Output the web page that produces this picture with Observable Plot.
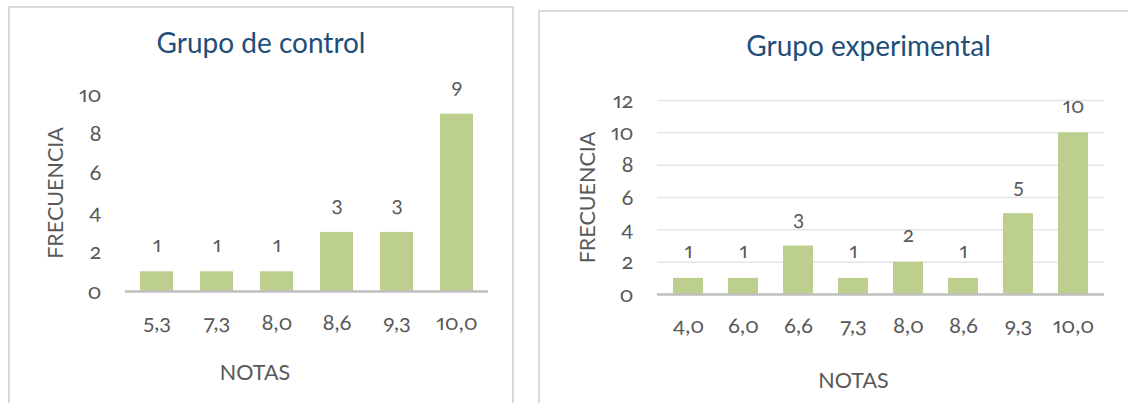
<!DOCTYPE html>
<html>
<head>
<meta charset="utf-8">
<script src="https://cdn.jsdelivr.net/npm/d3@7"></script>
<script src="https://cdn.jsdelivr.net/npm/@observablehq/plot@0.6"></script>
<style>
  html, body { margin: 0; padding: 0; background: #fff; overflow: hidden; }
  body { width: 1128px; height: 403px; position: relative; }
  .panel { position: absolute; border: 2px solid #d9d9d9; box-sizing: border-box; }
  .chart { position: absolute; }
  /* old-style figures for every number in the charts */
  .chart svg, .chart svg text { font-variant-numeric: oldstyle-nums proportional-nums !important; }
</style>
</head>
<body>
<div class="panel" style="left:8px; top:6px; width:506px; height:420px;"></div>
<div class="panel" style="left:538px; top:10px; width:620px; height:420px;"></div>
<div id="control" class="chart" style="left:8px; top:6px;"></div>
<div id="experimental" class="chart" style="left:538px; top:10px;"></div>

<script>
// Grupo de control
const notasControl = ["5,3", "7,3", "8,0", "8,6", "9,3", "10,0"];
const frecuenciaControl = [1, 1, 1, 3, 3, 9];
const ticksControl = [0, 2, 4, 6, 8, 10];

// Grupo experimental
const notasExperimental = ["4,0", "6,0", "6,6", "7,3", "8,0", "8,6", "9,3", "10,0"];
const frecuenciaExperimental = [1, 1, 3, 1, 2, 1, 5, 10];
const ticksExperimental = [0, 2, 4, 6, 8, 10, 12];

const FONT = "Lato, 'Noto Sans', sans-serif";
const TEXT = "#595959";
const TITLE = "#1f4e79";
const BAR = "#bccf8e";
const NUMS = "oldstyle-nums";

function histograma({notas, frecuencia, ticks, titulo, width, height, margins, grid, titleDx, titleDy, notasDx, notasDy}) {
  const data = notas.map((n, i) => ({nota: n, frecuencia: frecuencia[i]}));
  const yMax = ticks[ticks.length - 1];
  return Plot.plot({
    width, height,
    ...margins,
    style: {fontFamily: FONT, color: TEXT, background: "transparent"},
    x: {domain: notas, paddingInner: 0.45, paddingOuter: 0.225, label: null},
    y: {domain: [0, yMax], label: null},
    marks: [
      grid ? Plot.ruleY(ticks.filter(t => t > 0), {stroke: "#e5e5e5", strokeWidth: 1.5}) : null,
      Plot.barY(data, {x: "nota", y: "frecuencia", fill: BAR}),
      Plot.ruleY([0], {stroke: "#bfbfbf", strokeWidth: 2.5}),
      Plot.axisY({ticks, tickSize: 0, tickPadding: 24, fontSize: 22, fontVariant: NUMS,
        label: null, tickFormat: d => String(d)}),
      Plot.axisX({tickSize: 0, tickPadding: 23, fontSize: 22, fontVariant: NUMS, label: null}),
      Plot.text(data, {x: "nota", y: "frecuencia", text: d => String(d.frecuencia),
        lineAnchor: "bottom", dy: -20, fontSize: 21, fontVariant: NUMS, fill: TEXT}),
      Plot.text(["FRECUENCIA"], {frameAnchor: "left", dx: -69, rotate: -90,
        fontSize: 21.5, fill: TEXT, textAnchor: "middle", lineAnchor: "middle"}),
      Plot.text(["NOTAS"], {frameAnchor: "bottom", dx: notasDx, dy: notasDy,
        fontSize: 21.5, fill: TEXT, lineAnchor: "middle"}),
      Plot.text([titulo], {frameAnchor: "top", dx: titleDx, dy: titleDy,
        fontSize: 28, fill: TITLE, lineAnchor: "middle"})
    ]
  });
}

document.getElementById("control").append(histograma({
  notas: notasControl,
  frecuencia: frecuenciaControl,
  ticks: ticksControl,
  titulo: "Grupo de control",
  width: 505, height: 397,
  margins: {marginLeft: 117, marginRight: 25, marginTop: 88, marginBottom: 112},
  grid: false,
  titleDx: -46, titleDy: -50,
  notasDx: -52, notasDy: 82
}));

document.getElementById("experimental").append(histograma({
  notas: notasExperimental,
  frecuencia: frecuenciaExperimental,
  ticks: ticksExperimental,
  titulo: "Grupo experimental",
  width: 590, height: 393,
  margins: {marginLeft: 119, marginRight: 24, marginTop: 90, marginBottom: 109},
  grid: true,
  titleDx: -12.5, titleDy: -53,
  notasDx: -27.5, notasDy: 87
}));
</script>
</body>
</html>
